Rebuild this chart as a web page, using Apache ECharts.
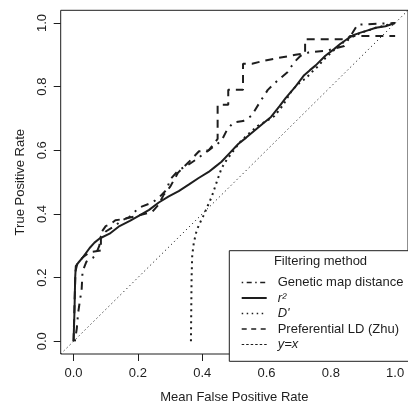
<!DOCTYPE html>
<html>
<head>
<meta charset="utf-8">
<script src="https://cdn.jsdelivr.net/npm/echarts@6/dist/echarts.min.js"></script>
<style>
html,body{margin:0;padding:0;background:#fff;}
#c{width:408px;height:409px;}
</style>
</head>
<body>
<div id="c"></div>
<script>
// ---- data ----
const xTicks = [0, 0.2, 0.4, 0.6, 0.8, 1.0];
const yTicks = [0, 0.2, 0.4, 0.6, 0.8, 1.0];
const seriesNames = ['Genetic map distance', 'r²', "D'", 'Preferential LD (Zhu)', 'y=x'];

const geneticMap = [[0.004,0],[0.01,0.04],[0.014,0.087],[0.02,0.13],[0.025,0.16],[0.028,0.22],[0.04,0.25],[0.06,0.262],[0.07,0.275],[0.08,0.3],[0.085,0.33],[0.1,0.345],[0.13,0.364],[0.15,0.38],[0.173,0.39],[0.204,0.42],[0.245,0.436],[0.265,0.451],[0.29,0.477],[0.3,0.508],[0.327,0.538],[0.35,0.55],[0.378,0.569],[0.42,0.6],[0.46,0.63],[0.476,0.662],[0.496,0.687],[0.527,0.692],[0.553,0.708],[0.578,0.749],[0.604,0.79],[0.635,0.82],[0.666,0.846],[0.686,0.877],[0.706,0.897],[0.732,0.908],[0.787,0.913],[0.842,0.928],[0.868,0.97],[0.883,0.995],[1,1]];

const rSquared = [[0,0],[0.003,0.1],[0.005,0.2],[0.007,0.236],[0.014,0.246],[0.03,0.265],[0.05,0.293],[0.065,0.31],[0.081,0.323],[0.112,0.338],[0.143,0.362],[0.175,0.378],[0.204,0.395],[0.235,0.413],[0.265,0.436],[0.296,0.455],[0.327,0.472],[0.358,0.492],[0.389,0.513],[0.42,0.532],[0.44,0.548],[0.46,0.564],[0.486,0.592],[0.512,0.62],[0.537,0.64],[0.563,0.662],[0.59,0.685],[0.614,0.705],[0.64,0.738],[0.66,0.765],[0.69,0.8],[0.717,0.836],[0.735,0.852],[0.753,0.867],[0.783,0.897],[0.81,0.918],[0.83,0.935],[0.85,0.949],[0.87,0.962],[0.89,0.969],[0.915,0.977],[0.94,0.985],[0.97,0.99],[1,1]];

const dPrime = [[0.365,0],[0.366,0.1],[0.367,0.2],[0.369,0.27],[0.374,0.31],[0.383,0.349],[0.393,0.372],[0.404,0.395],[0.417,0.425],[0.43,0.455],[0.445,0.5],[0.46,0.543],[0.476,0.57],[0.491,0.59],[0.507,0.612],[0.522,0.631],[0.548,0.655],[0.573,0.677],[0.6,0.692],[0.625,0.708],[0.65,0.74],[0.68,0.79],[0.706,0.815],[0.722,0.826],[0.74,0.845],[0.758,0.862],[0.783,0.89],[0.81,0.915],[0.85,0.948],[0.89,0.968],[0.94,0.985],[1,1]];

const zhuLD = [[0,0],[0.003,0.12],[0.006,0.22],[0.012,0.245],[0.03,0.265],[0.05,0.28],[0.085,0.285],[0.085,0.34],[0.1,0.362],[0.115,0.368],[0.13,0.38],[0.16,0.385],[0.2,0.395],[0.245,0.407],[0.265,0.43],[0.28,0.46],[0.3,0.485],[0.325,0.53],[0.36,0.565],[0.39,0.597],[0.42,0.6],[0.448,0.636],[0.448,0.743],[0.481,0.743],[0.481,0.79],[0.527,0.79],[0.527,0.872],[0.555,0.872],[0.594,0.882],[0.63,0.889],[0.69,0.9],[0.72,0.905],[0.72,0.949],[0.85,0.949],[0.86,0.959],[1,0.959]];

const identityLine = [[-0.04,-0.04],[1.04,1.04]];

// ---- chart ----
const FONT = 'Liberation Sans, Arial, Helvetica, sans-serif';
const INK = '#1e1e1e';
const chart = echarts.init(document.getElementById('c'), null, {renderer: 'canvas'});

const legendLabel = {
  'Genetic map distance': '{n|Genetic map distance}',
  'r²': '{i|r²}',
  "D'": "{i|D'}",
  'Preferential LD (Zhu)': '{n|Preferential LD (Zhu)}',
  'y=x': '{i|y=x}'
};
const hiddenSymbol = {color: 'transparent', borderColor: 'transparent', borderWidth: 0, opacity: 0};

const option = {
  animation: false,
  backgroundColor: '#fff',
  textStyle: {fontFamily: FONT},
  grid: {
    left: 60.7, top: 10.3, width: 351, height: 351,
    show: true, borderColor: INK, borderWidth: 1, backgroundColor: 'transparent'
  },
  xAxis: {
    type: 'value', min: -0.04, max: 1.04,
    name: 'Mean False Positive Rate', nameLocation: 'middle', nameGap: 37,
    nameTextStyle: {fontSize: 13, color: INK, fontFamily: FONT},
    axisLine: {show: false, onZero: false},
    axisTick: {show: true, inside: false, length: 7, customValues: xTicks, lineStyle: {color: INK}},
    axisLabel: {customValues: xTicks, margin: 13, fontSize: 13, color: INK, fontFamily: FONT,
      formatter: v => v.toFixed(1)},
    splitLine: {show: false}
  },
  yAxis: {
    type: 'value', min: -0.04, max: 1.04,
    name: 'True Positive Rate', nameLocation: 'middle', nameGap: 34, nameRotate: 90,
    nameTextStyle: {fontSize: 13, color: INK, fontFamily: FONT},
    axisLine: {show: false, onZero: false},
    axisTick: {show: true, inside: false, length: 7, customValues: yTicks, lineStyle: {color: INK}},
    axisLabel: {customValues: yTicks, rotate: 90, margin: 12, fontSize: 13, color: INK, fontFamily: FONT,
      formatter: v => v.toFixed(1)},
    splitLine: {show: false}
  },
  legend: {
    orient: 'vertical', left: 240.7, top: 276,
    itemWidth: 25, itemHeight: 14, itemGap: 2.5, padding: 0,
    selectedMode: false,
    itemStyle: hiddenSymbol,
    data: [
      {name: seriesNames[0], itemStyle: hiddenSymbol, lineStyle: {width: 1.5, type: [1.5, 3.5, 5, 3.5], color: INK}},
      {name: seriesNames[1], itemStyle: hiddenSymbol, lineStyle: {width: 2, type: 'solid', color: INK}},
      {name: seriesNames[2], itemStyle: hiddenSymbol, lineStyle: {width: 1.5, type: [1.5, 3.5], color: INK}},
      {name: seriesNames[3], itemStyle: hiddenSymbol, lineStyle: {width: 1.5, type: [5, 4.5], color: INK}},
      {name: seriesNames[4], itemStyle: hiddenSymbol, lineStyle: {width: 1, type: [2.5, 2], color: INK}}
    ],
    formatter: name => legendLabel[name],
    textStyle: {
      fontSize: 13, color: INK, fontFamily: FONT, padding: [0, 0, 0, 6],
      rich: {
        n: {fontSize: 13, color: INK, fontFamily: FONT},
        i: {fontSize: 13, color: INK, fontFamily: FONT, fontStyle: 'italic'}
      }
    }
  },
  graphic: [
    {type: 'rect', z: 3, silent: true,
      shape: {x: 229.3, y: 250.7, width: 182.4, height: 110.6},
      style: {fill: '#fff', stroke: INK, lineWidth: 1}},
    {type: 'text', z: 5, silent: true, x: 320.5, y: 261.5,
      style: {text: 'Filtering method', fill: INK, font: '13px ' + FONT, textAlign: 'center', textVerticalAlign: 'middle'}}
  ],
  series: [
    {name: seriesNames[0], type: 'line', data: geneticMap, symbol: 'none', z: 2,
      lineStyle: {color: INK, width: 2, type: [2, 6, 8, 6]}},
    {name: seriesNames[1], type: 'line', data: rSquared, symbol: 'none', z: 2,
      lineStyle: {color: INK, width: 2, type: 'solid'}},
    {name: seriesNames[2], type: 'line', data: dPrime, symbol: 'none', z: 2,
      lineStyle: {color: INK, width: 2, type: [2, 4]}},
    {name: seriesNames[3], type: 'line', data: zhuLD, symbol: 'none', z: 2,
      lineStyle: {color: INK, width: 2, type: [8, 6]}},
    {name: seriesNames[4], type: 'line', data: identityLine, symbol: 'none', z: 1,
      lineStyle: {color: INK, width: 1, type: [1.2, 3]}}
  ]
};
chart.setOption(option);
</script>
</body>
</html>
